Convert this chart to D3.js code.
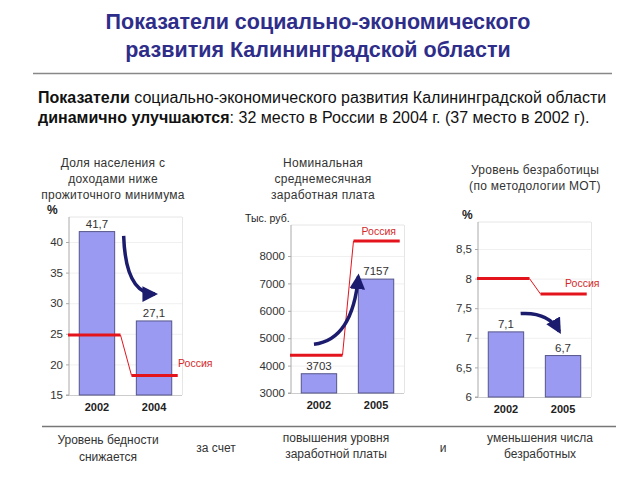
<!DOCTYPE html>
<html><head><meta charset="utf-8">
<script src="https://cdn.jsdelivr.net/npm/d3@7"></script>
<style>body{margin:0;background:#fff}svg{display:block;font-family:"Liberation Sans",Arial,sans-serif}</style>
</head><body><svg id="c" width="640" height="480"></svg>
<script>
// ---- data ----
const povertyYears = ["2002", "2004"];
const povertyValues = [41.7, 27.1];
const povertyRussia = [24.8, 18.2];
const povertyTicks = [15, 20, 25, 30, 35, 40];
const povertyLabels = ["41,7", "27,1"];

const wageYears = ["2002", "2005"];
const wageValues = [3703, 7157];
const wageRussia = [4380, 8550];
const wageTicks = [3000, 4000, 5000, 6000, 7000, 8000];
const wageLabels = ["3703", "7157"];

const unempYears = ["2002", "2005"];
const unempValues = [7.1, 6.7];
const unempRussia = [8.0, 7.74];
const unempTicks = [6, 6.5, 7, 7.5, 8, 8.5];
const unempTickLabels = ["6", "6,5", "7", "7,5", "8", "8,5"];
const unempLabels = ["7,1", "6,7"];

const svg = d3.select("#c");
const NAVY = "#1c1c6e", RED = "#e3141c";

svg.append("defs").append("marker").attr("id", "ah")
  .attr("viewBox", "0 0 10 10").attr("refX", 8).attr("refY", 5)
  .attr("markerWidth", 4.5).attr("markerHeight", 4.5).attr("orient", "auto")
  .append("path").attr("d", "M0,0 L10,5 L0,10 Z").attr("fill", NAVY);

// title
svg.append("text").attr("x", 318).attr("y", 29).attr("text-anchor", "middle")
  .attr("font-size", 21.5).attr("font-weight", "bold").attr("fill", "#2e2e8a")
  .text("Показатели социально-экономического");
svg.append("text").attr("x", 318).attr("y", 57).attr("text-anchor", "middle")
  .attr("font-size", 21.5).attr("font-weight", "bold").attr("fill", "#2e2e8a")
  .text("развития Калининградской области");
svg.append("line").attr("x1", 33).attr("x2", 612).attr("y1", 73.5).attr("y2", 73.5)
  .attr("stroke", "#888").attr("stroke-width", 1.5);

const p1 = svg.append("text").attr("x", 38).attr("y", 103).attr("font-size", 16).attr("fill", "#111");
p1.append("tspan").attr("font-weight", "bold").text("Показатели");
p1.append("tspan").text(" социально-экономического развития Калининградской области");
const p2 = svg.append("text").attr("x", 38).attr("y", 123).attr("font-size", 16).attr("fill", "#111");
p2.append("tspan").attr("font-weight", "bold").text("динамично улучшаются");
p2.append("tspan").text(": 32 место в России в 2004 г. (37 место в 2002 г).");

function panel(o) {
  const g = svg.append("g");
  const x = d3.scaleBand().domain(o.years).range([o.left, o.left + 113])
    .paddingInner(0.38).paddingOuter(0.18);
  const y = d3.scaleLinear().domain(o.domain).range([o.bottom, o.top]);
  const right = o.left + 113;

  o.title.forEach((t, i) => g.append("text").attr("x", o.titleX).attr("y", o.titleY + i * 16)
    .attr("text-anchor", "middle").attr("font-size", 12).attr("letter-spacing", 0.3).attr("fill", "#333").text(t));

  g.selectAll(".grid").data(o.ticks).join("line")
    .attr("x1", o.left).attr("x2", right).attr("y1", d => y(d) + 0.5).attr("y2", d => y(d) + 0.5)
    .attr("stroke", "#f0f0f0");
  g.append("line").attr("x1", o.left).attr("x2", right).attr("y1", o.frameTop).attr("y2", o.frameTop).attr("stroke", "#e6e6e6");
  g.append("line").attr("x1", right + 0.5).attr("x2", right + 0.5).attr("y1", o.frameTop).attr("y2", o.bottom).attr("stroke", "#e6e6e6");

  const ax = g.append("g").attr("transform", `translate(${o.left},0)`)
    .call(d3.axisLeft(y).tickValues(o.ticks).tickSize(3).tickFormat((d, i) => o.tickLabels ? o.tickLabels[i] : d));
  ax.select(".domain").attr("stroke", "#aaa").attr("d", `M-3,${o.bottom}H0V${o.frameTop}`);
  ax.selectAll(".tick line").attr("stroke", "#aaa");
  ax.selectAll(".tick text").attr("font-size", 11.5).attr("fill", "#333").attr("font-family", "Liberation Sans, Arial, sans-serif");
  g.append("line").attr("x1", o.left).attr("x2", right).attr("y1", o.bottom + 0.5).attr("y2", o.bottom + 0.5).attr("stroke", "#ccc");

  g.append("text").attr("x", o.unitX).attr("y", o.frameTop - 3).attr("font-size", o.unitBold ? 12 : 10.5)
    .attr("font-weight", o.unitBold ? "bold" : "normal").attr("fill", "#222").text(o.unit);

  g.selectAll(".bar").data(o.values).join("rect")
    .attr("x", (d, i) => x(o.years[i])).attr("width", x.bandwidth())
    .attr("y", d => y(d)).attr("height", d => y(o.domain[0]) - y(d))
    .attr("fill", "#9a9af2").attr("stroke", "#55558a").attr("stroke-width", 1);

  g.selectAll(".vl").data(o.values).join("text")
    .attr("x", (d, i) => x(o.years[i]) + x.bandwidth() / 2).attr("y", d => y(d) - 4)
    .attr("text-anchor", "middle").attr("font-size", 11.5).attr("fill", "#333")
    .text((d, i) => o.labels[i]);

  g.selectAll(".yl").data(o.years).join("text")
    .attr("x", d => x(d) + x.bandwidth() / 2).attr("y", o.bottom + 16)
    .attr("text-anchor", "middle").attr("font-size", 11).attr("font-weight", "bold").attr("fill", "#222")
    .text(d => d);

  const mid = (x(o.years[0]) + x.bandwidth() + x(o.years[1])) / 2;
  const r0 = y(o.russia[0]), r1 = y(o.russia[1]);
  const endX = x(o.years[1]) + x.bandwidth() + 6;
  g.append("line").attr("x1", o.left - 1).attr("x2", mid - 5).attr("y1", r0).attr("y2", r0).attr("stroke", RED).attr("stroke-width", 3);
  g.append("line").attr("x1", mid - 5).attr("x2", mid + 6).attr("y1", r0).attr("y2", r1).attr("stroke", RED).attr("stroke-width", 1);
  g.append("line").attr("x1", mid + 6).attr("x2", endX).attr("y1", r1).attr("y2", r1).attr("stroke", RED).attr("stroke-width", 3);
  g.append("text").attr("x", o.rusLabelX).attr("y", r1 + o.rusLabelDy).attr("font-size", 10.5).attr("fill", "#d42a2a")
    .attr("text-anchor", o.rusAnchor || "start").text("Россия");

  const a = o.arrow(x, y);
  g.append("path").attr("d", `M${a[0]},${a[1]} Q${a[2]},${a[3]} ${a[4]},${a[5]}`)
    .attr("fill", "none").attr("stroke", NAVY).attr("stroke-width", 3.5).attr("marker-end", "url(#ah)");
}

panel({
  years: povertyYears, values: povertyValues, russia: povertyRussia, ticks: povertyTicks, labels: povertyLabels,
  domain: [15, 43.5], left: 69, bottom: 395, top: 395 - 28.5 * 6.12, frameTop: 217,
  title: ["Доля населения с", "доходами ниже", "прожиточного минимума"], titleX: 113, titleY: 167,
  unit: "%", unitX: 47, unitBold: true, rusLabelX: 178, rusLabelDy: -8, rusAnchor: "start",
  arrow: (x, y) => [x("2002") + x.bandwidth() + 9, y(41), x("2002") + x.bandwidth() + 11, y(31.5), x("2004") + x.bandwidth() / 2 + 1, y(31.5)]
});

panel({
  years: wageYears, values: wageValues, russia: wageRussia, ticks: wageTicks, labels: wageLabels,
  domain: [3000, 8600], left: 291, bottom: 393, top: 393 - 5600 * 0.0274, frameTop: 225,
  title: ["Номинальная", "среднемесячная", "заработная плата"], titleX: 323, titleY: 167,
  unit: "Тыс. руб.", unitX: 245, unitBold: false, rusLabelX: 396, rusLabelDy: -6, rusAnchor: "end",
  arrow: (x, y) => [x("2002") + x.bandwidth() / 2 - 5, y(4780), x("2002") + x.bandwidth() + 16, y(4950), x("2005") + 0, y(7250)]
});

panel({
  years: unempYears, values: unempValues, russia: unempRussia, ticks: unempTicks, labels: unempLabels, tickLabels: unempTickLabels,
  domain: [6, 8.8], left: 478, bottom: 397, top: 397 - 2.8 * 59.2, frameTop: 222,
  title: ["Уровень безработицы", "(по методологии МОТ)"], titleX: 535, titleY: 174,
  unit: "%", unitX: 462, unitBold: true, rusLabelX: 565, rusLabelDy: -7, rusAnchor: "start",
  arrow: (x, y) => [x("2002") + x.bandwidth() - 3, y(7.41), x("2005") + 3, y(7.44), x("2005") + 14, y(7.11)]
});

svg.append("line").attr("x1", 42).attr("x2", 616).attr("y1", 426.5).attr("y2", 426.5)
  .attr("stroke", "#777").attr("stroke-width", 1.5);
const bottom = [
  {x: 108, y: 444, t: "Уровень бедности"}, {x: 108, y: 461, t: "снижается"},
  {x: 216, y: 452, t: "за счет"},
  {x: 336, y: 442, t: "повышения уровня"}, {x: 336, y: 458, t: "заработной платы"},
  {x: 443, y: 452, t: "и"},
  {x: 540, y: 442, t: "уменьшения числа"}, {x: 540, y: 458, t: "безработных"}
];
svg.selectAll(".bt").data(bottom).join("text").attr("x", d => d.x).attr("y", d => d.y)
  .attr("text-anchor", "middle").attr("font-size", 12).attr("fill", "#333").text(d => d.t);
</script></body></html>
